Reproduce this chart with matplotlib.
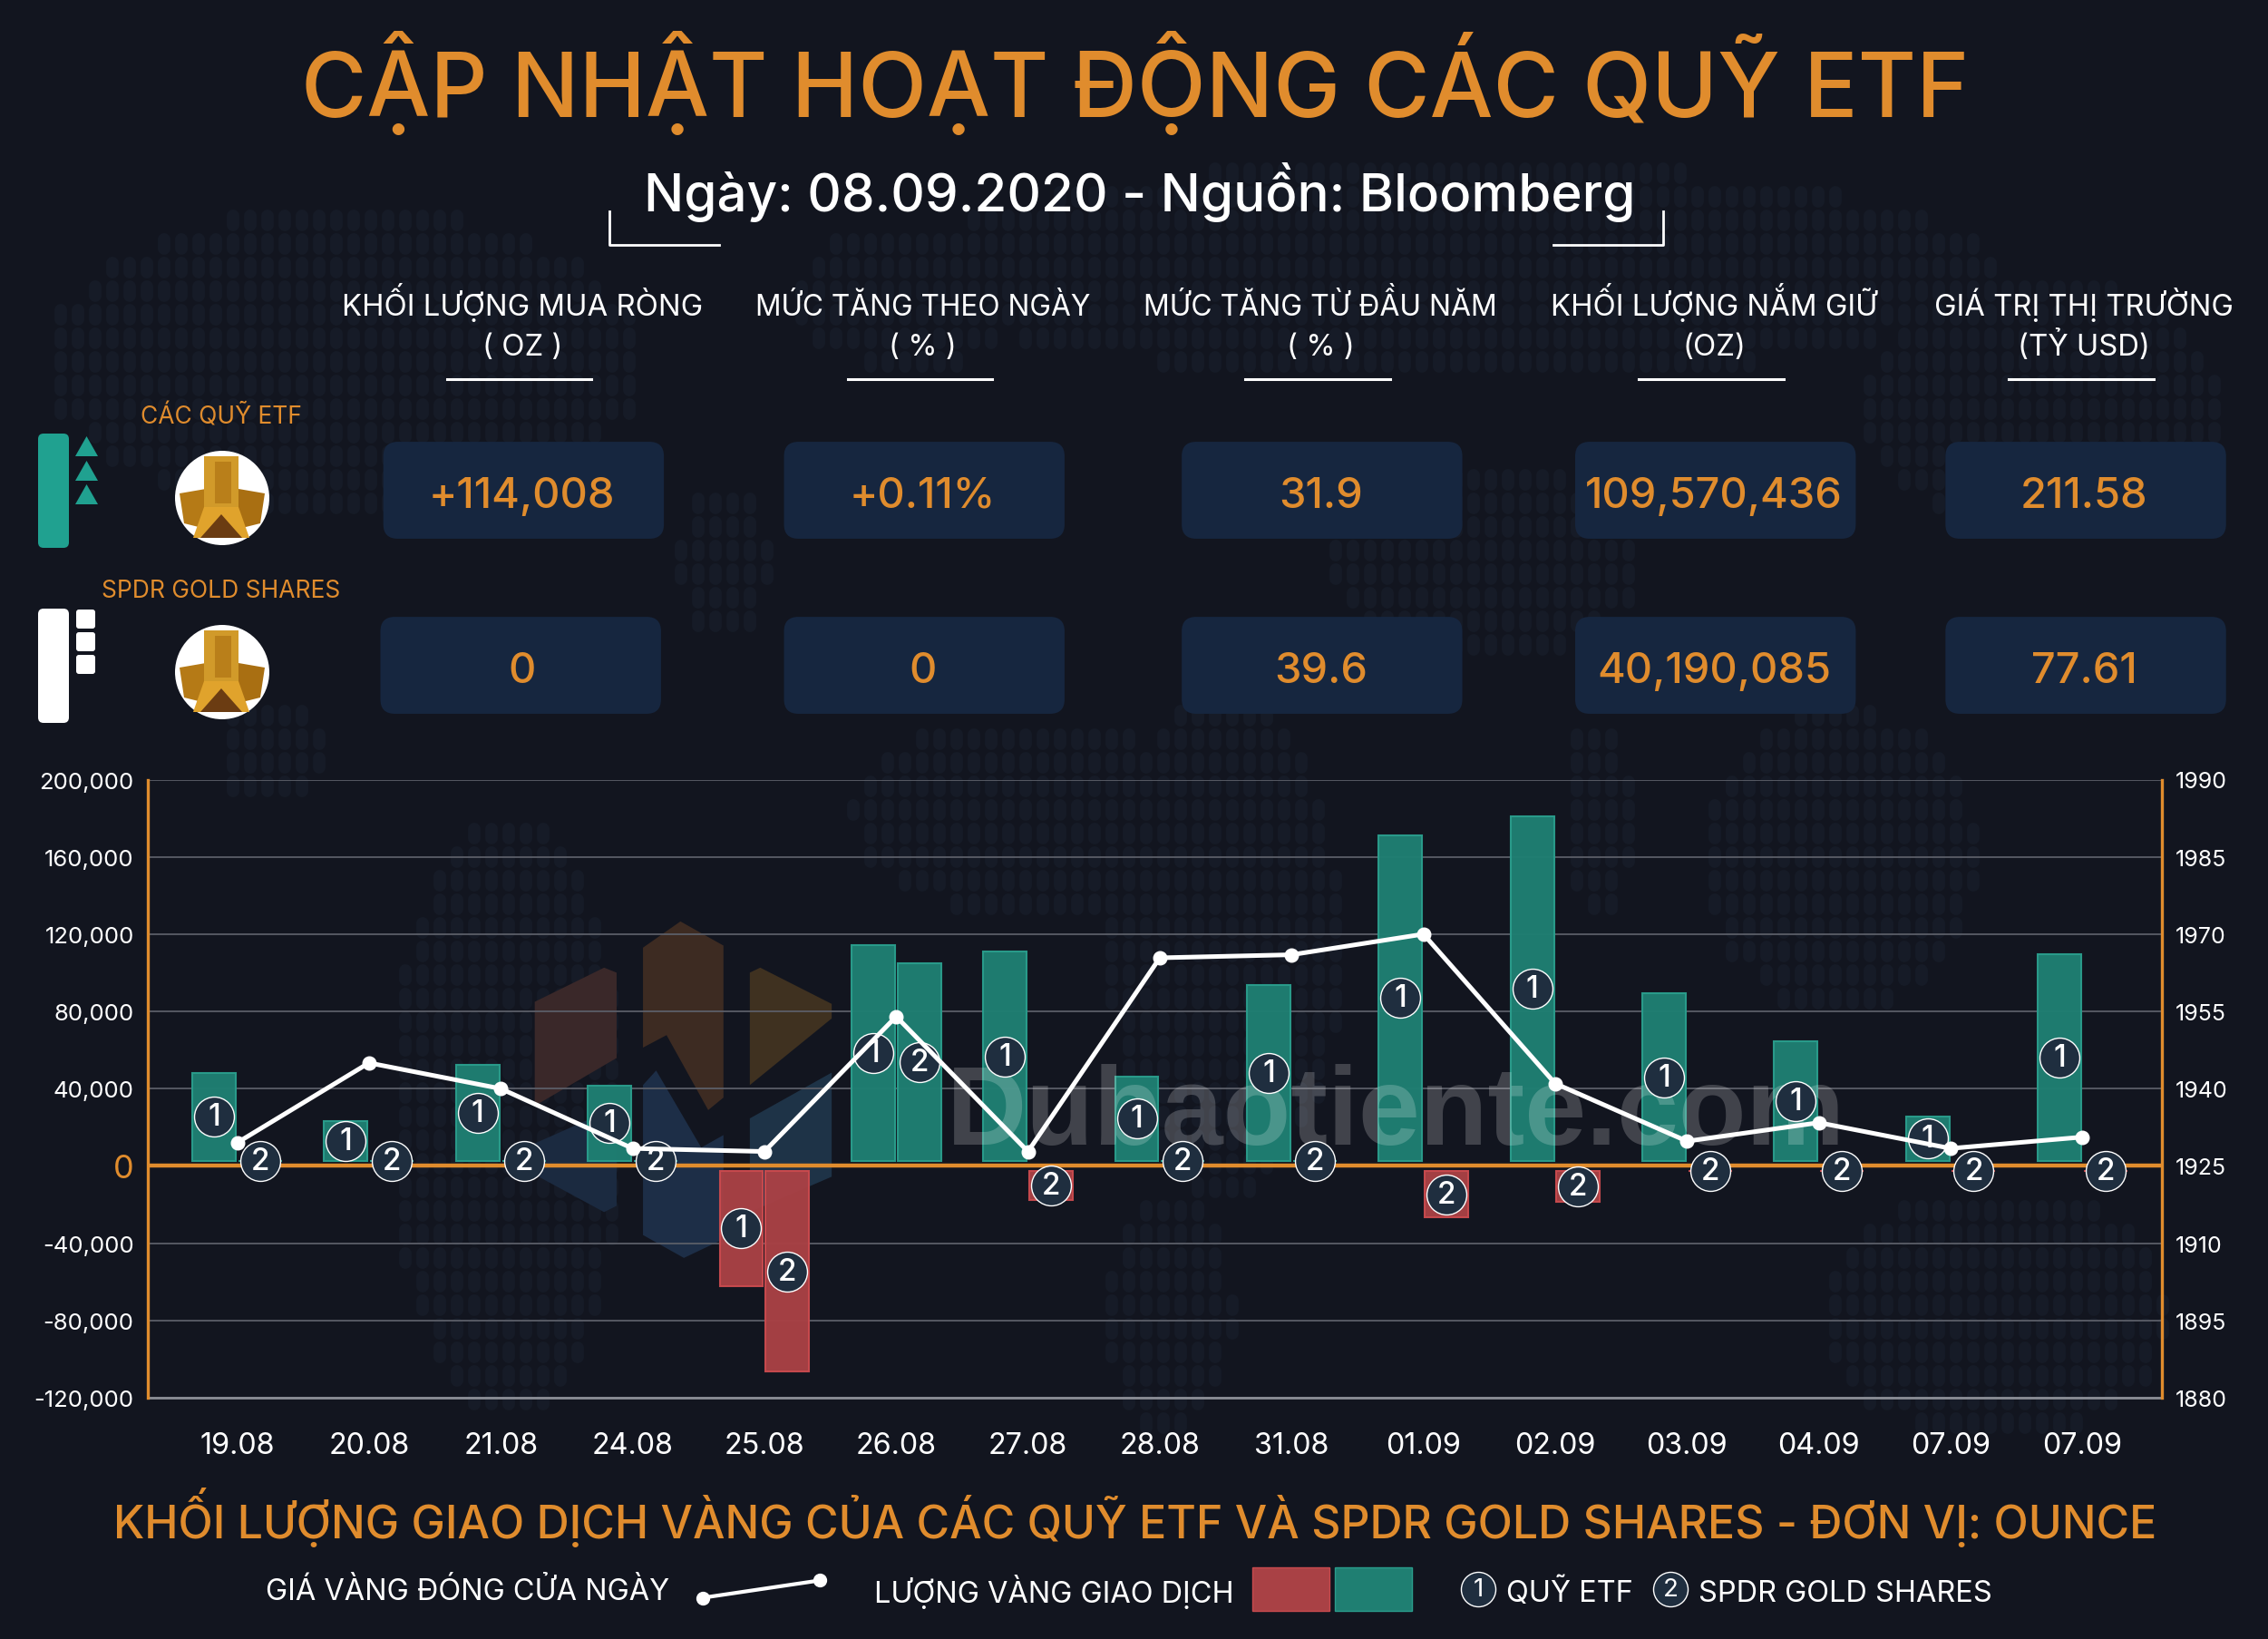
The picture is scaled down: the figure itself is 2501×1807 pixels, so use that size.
import matplotlib
matplotlib.use("Agg")
import matplotlib.pyplot as plt
import numpy as np
from matplotlib.collections import LineCollection
from matplotlib.patches import FancyBboxPatch, Polygon, Circle

plt.rcParams['font.family'] = ['Inter', 'Noto Sans', 'DejaVu Sans']

dates = ["19.08", "20.08", "21.08", "24.08", "25.08", "26.08", "27.08", "28.08",
         "31.08", "01.09", "02.09", "03.09", "04.09", "07.09", "07.09"]
etfVolume = [48200, 23000, 52400, 41600, -62200, 114300, 110900, 46300,
             93600, 171200, 181000, 89300, 64400, 25700, 109500]
# -0.0 = no change but the source draws it as a red stub under the zero line
spdrVolume = [0, 0, 0, 0, -106500, 104800, -17800, 0,
              0, -26700, -18700, -0.0, -0.0, -0.0, -0.0]
goldClose = [1929.5, 1945, 1940, 1928.4, 1927.8, 1954, 1927.8, 1965.4,
             1966, 1970, 1941, 1929.8, 1933.4, 1928.4, 1930.6]

leftTicks = [-120000, -80000, -40000, 0, 40000, 80000, 120000, 160000, 200000]
rightTicks = [1880, 1895, 1910, 1925, 1940, 1955, 1970, 1985, 2000]
rightLabels = ["1880", "1895", "1910", "1925", "1940", "1955", "1970", "1985", "1990"]

headers = [("KHỐI LƯỢNG MUA RÒNG", "( OZ )"), ("MỨC TĂNG THEO NGÀY", "( % )"),
           ("MỨC TĂNG TỪ ĐẦU NĂM", "( % )"), ("KHỐI LƯỢNG NẮM GIỮ", "(OZ)"),
           ("GIÁ TRỊ THỊ TRƯỜNG", "(TỶ USD)")]
etfRow = ["+114,008", "+0.11%", "31.9", "109,570,436", "211.58"]
spdrRow = ["0", "0", "39.6", "40,190,085", "77.61"]

BG = "#12151f"
ORANGE = "#e08c2d"
TEAL = "#1f7f72"
TEAL_EDGE = "#2a9d8c"
RED = "#a94145"
RED_EDGE = "#c94a4e"
BOX = "#16263f"
BADGE = "#1f2e3f"
W, H = 2501, 1808
GAP = 2500

# rough blobs of the dotted world map behind everything, in image pixels
mapBlobs = [(380, 400, 330, 170), (1180, 300, 40, 60), (560, 1230, 130, 330), (300, 830, 60, 60),
            (1130, 900, 190, 110), (1350, 1040, 130, 280), (1290, 1450, 70, 130), (1760, 900, 40, 110),
            (2030, 950, 150, 170), (2200, 1450, 190, 140), (1600, 300, 600, 120), (2250, 450, 200, 140),
            (1000, 330, 120, 80), (1640, 620, 170, 110), (800, 620, 50, 90)]


def addMap(bg):
    segs = []
    for cx in np.arange(10, W, 19):
        for cy in np.arange(10, H, 26):
            for bx, by, rx, ry in mapBlobs:
                if ((cx - bx) / rx) ** 2 + ((cy - by) / ry) ** 2 < 1:
                    segs.append([(cx, cy - 5), (cx, cy + 5)])
                    break
    lc = LineCollection(segs, colors="#161b27", linewidths=10, capstyle="round", zorder=0)
    bg.add_collection(lc)


def addLogo(bg):
    def z(points):
        return [(100 + a / 1.307, 830 + b / 2.178) for a, b in points]
    shapes = [([(640, 600), (740, 518), (758, 530), (758, 735), (640, 850)], "#3a2829"),
              ([(796, 470), (850, 407), (912, 465), (912, 830), (890, 860), (830, 680), (796, 710)], "#3d2b22"),
              ([(950, 530), (965, 518), (1068, 605), (1068, 640), (950, 800)], "#3f3120"),
              ([(640, 940), (735, 870), (758, 900), (758, 1090), (740, 1105), (640, 1015)], "#1b2a40"),
              ([(796, 800), (815, 765), (880, 950), (912, 920), (912, 1170), (855, 1215), (796, 1160)], "#1d2e47"),
              ([(950, 880), (1068, 770), (1068, 1020), (950, 1105)], "#1e3347")]
    for pts, col in shapes:
        bg.add_patch(Polygon(z(pts), closed=True, facecolor=col, edgecolor="none"))


def addGoldIcon(bg, cx, cy):
    bg.add_patch(Circle((cx, cy), 52, facecolor="white", edgecolor="none"))
    bg.add_patch(Polygon([(cx - 47, cy - 5), (cx - 18, cy - 10), (cx - 18, cy + 34), (cx - 42, cy + 28)], facecolor="#b57a16"))
    bg.add_patch(Polygon([(cx + 47, cy - 5), (cx + 18, cy - 10), (cx + 18, cy + 34), (cx + 42, cy + 28)], facecolor="#a96f12"))
    bg.add_patch(Polygon([(cx - 20, cy - 46), (cx + 18, cy - 46), (cx + 18, cy + 10), (cx - 20, cy + 10)], facecolor="#d19a2a"))
    bg.add_patch(Polygon([(cx - 8, cy - 40), (cx + 10, cy - 40), (cx + 10, cy + 6), (cx - 8, cy + 6)], facecolor="#b97f1a"))
    bg.add_patch(Polygon([(cx - 20, cy + 10), (cx + 18, cy + 10), (cx + 30, cy + 44), (cx - 32, cy + 44)], facecolor="#e0a32c"))
    bg.add_patch(Polygon([(cx - 1, cy + 18), (cx + 22, cy + 44), (cx - 24, cy + 44)], facecolor="#6b3c12"))


def addSideIcons(bg):
    bg.add_patch(FancyBboxPatch((46, 483), 26, 118, boxstyle="round,pad=4,rounding_size=6", facecolor="#20a190", edgecolor="none"))
    for top in [482, 509, 535]:
        bg.add_patch(Polygon([(95.5, top), (108, top + 22), (83, top + 22)], facecolor="#20a190"))
    bg.add_patch(FancyBboxPatch((46, 676), 26, 118, boxstyle="round,pad=4,rounding_size=6", facecolor="white", edgecolor="none"))
    for top in [673, 698, 723]:
        bg.add_patch(FancyBboxPatch((87, top + 3), 15, 15, boxstyle="round,pad=3,rounding_size=3", facecolor="white", edgecolor="none"))


def addHeader(ui):
    ui.text(785, 81, "CẬP NHẬT HOẠT ĐỘNG CÁC QUỸ ETF", color=ORANGE, fontsize=71, fontweight="medium", ha="center", va="baseline")
    ui.text(788, 146, "Ngày: 08.09.2020 - Nguồn: Bloomberg", color="white", fontsize=42, fontweight="medium", ha="center", va="baseline")
    ui.plot([421, 421, 497], [147, 170, 170], color="white", lw=2)
    ui.plot([1150, 1150, 1074], [147, 170, 170], color="white", lw=2)

    colCenters = [361, 638, 913, 1185, 1441]
    row1Left = [265, 542, 817, 1089, 1345]
    row2Left = [263, 542, 817, 1089, 1345]
    headerSizes = [23.7, 22.8, 23.0, 23.7, 23.6]
    for i, (top, sub) in enumerate(headers):
        c = colCenters[i]
        ui.text(c, 218, top, color="white", fontsize=headerSizes[i], ha="center", va="baseline")
        ui.text(c, 246, sub, color="white", fontsize=23.7, ha="center", va="baseline")
        ui.plot([c - 52, c + 48], [263, 263], color="white", lw=2.2)
        ui.add_patch(FancyBboxPatch((row1Left[i] + 8, 314), 178, 51, boxstyle="round,pad=8,rounding_size=10", facecolor=BOX, edgecolor="none"))
        ui.add_patch(FancyBboxPatch((row2Left[i] + 8, 435), 178, 51, boxstyle="round,pad=8,rounding_size=10", facecolor=BOX, edgecolor="none"))
        ui.text(c, 351, etfRow[i], color=ORANGE, fontsize=33.8, fontweight="medium", ha="center", va="baseline")
        ui.text(c, 472, spdrRow[i], color=ORANGE, fontsize=33.8, fontweight="medium", ha="center", va="baseline")

    ui.text(153, 293, "CÁC QUỸ ETF", color=ORANGE, fontsize=19, ha="center", va="baseline")
    ui.text(153, 413, "SPDR GOLD SHARES", color=ORANGE, fontsize=19, ha="center", va="baseline")


def addFooter(ui):
    ui.text(785, 1063, "KHỐI LƯỢNG GIAO DỊCH VÀNG CỦA CÁC QUỸ ETF VÀ SPDR GOLD SHARES - ĐƠN VỊ: OUNCE",
            color=ORANGE, fontsize=36, fontweight="medium", ha="center", va="baseline")
    ui.text(323, 1106, "GIÁ VÀNG ĐÓNG CỬA NGÀY", color="white", fontsize=23.4, ha="center", va="baseline")
    ui.plot([486, 567], [1105, 1093], color="white", lw=3, marker="o", ms=10)
    ui.text(729, 1108, "LƯỢNG VÀNG GIAO DỊCH", color="white", fontsize=23.4, ha="center", va="baseline")
    ui.bar(892.5, 30, 53, 1084, color=RED, edgecolor=RED_EDGE, lw=1)
    ui.bar(949.5, 30, 53, 1084, color=TEAL, edgecolor=TEAL_EDGE, lw=1)
    ui.text(1085, 1107, "QUỸ ETF", color="white", fontsize=23.4, ha="center", va="baseline")
    ui.text(1276, 1107, "SPDR GOLD SHARES", color="white", fontsize=23.4, ha="center", va="baseline")
    for x, label in [(1022, "1"), (1155, "2")]:
        ui.scatter([x], [1099], s=750, facecolor=BADGE, edgecolor="white", linewidth=1, zorder=5)
        ui.text(x, 1099, label, color="white", fontsize=20, ha="center", va="center", zorder=6)


def addBars(ax, x, values, offset):
    for xi, v in zip(x + offset, values):
        below = np.signbit(v)
        base = -GAP if below else GAP
        ax.bar(xi, v - base if v != 0 else 0, bottom=base, width=0.33,
               facecolor=RED if below else TEAL, edgecolor=RED_EDGE if below else TEAL_EDGE,
               linewidth=1.5, alpha=0.97, zorder=2)


def addBadges(ax, x, values, offset, label):
    for xi, v in zip(x + offset, values):
        base = -GAP if np.signbit(v) else GAP
        y = base + (v - base) / 2 if v != 0 else base
        ax.scatter([xi], [y], s=1000, facecolor=BADGE, edgecolor="white", linewidth=1, zorder=5, clip_on=False)
        ax.text(xi, y, label, color="white", fontsize=24, fontweight="medium", ha="center", va="center", zorder=6)


def main():
    fig = plt.figure(figsize=(W / 100, H / 100), dpi=100, facecolor=BG)

    bg = fig.add_axes([0, 0, 1, 1], zorder=0)
    bg.set_xlim(0, W)
    bg.set_ylim(H, 0)
    bg.axis("off")
    addMap(bg)
    addLogo(bg)
    addGoldIcon(bg, 245, 550)
    addGoldIcon(bg, 245, 742)
    addSideIcons(bg)

    ui = fig.add_axes([0, 0, 1, 1], zorder=1)
    ui.set_xlim(0, 1568)
    ui.set_ylim(H / (W / 1568), 0)
    ui.axis("off")
    ui.patch.set_alpha(0)
    addHeader(ui)
    addFooter(ui)

    left, right, top, bottom = 163, 2384, 860.5, 1542
    ax = fig.add_axes([left / W, 1 - bottom / H, (right - left) / W, (bottom - top) / H], zorder=2)
    ax.patch.set_alpha(0)
    x = np.arange(len(dates))
    ax.set_xlim(-0.678, 14.603)
    ax.set_ylim(-120000, 200000)
    ax.set_yticks(leftTicks)
    ax.set_yticklabels([f"{t:,}" for t in leftTicks], color="white", fontsize=18.5)
    ax.set_xticks(x)
    ax.set_xticklabels(dates, color="white", fontsize=23.3)
    ax.tick_params(axis="both", length=0)
    ax.tick_params(axis="x", pad=27)
    ax.tick_params(axis="y", pad=11)
    ax.grid(axis="y", color="#5b5e68", lw=1.3, zorder=1)
    ax.set_axisbelow(True)
    for side in ["top", "bottom"]:
        ax.spines[side].set_visible(False)
    for side in ["left", "right"]:
        ax.spines[side].set_color(ORANGE)
        ax.spines[side].set_linewidth(2.4)
    ax.axhline(0, color=ORANGE, lw=3.2, zorder=3)
    ax.axhline(-120000, color="#8a8d95", lw=2, zorder=1, clip_on=False)
    zeroLabel = ax.get_yticklabels()[leftTicks.index(0)]
    zeroLabel.set_color(ORANGE)
    zeroLabel.set_fontsize(26)

    addBars(ax, x, etfVolume, -0.175)
    addBars(ax, x, spdrVolume, 0.175)
    ax.text(8.79, 11700, "Dubaotiente.com", color="#ffffff", alpha=0.2, fontsize=88,
            fontweight="bold", family="Liberation Sans", ha="center", va="baseline", zorder=4)
    addBadges(ax, x, etfVolume, -0.175, "1")
    addBadges(ax, x, spdrVolume, 0.175, "2")

    ax2 = ax.twinx()
    ax2.set_ylim(1880, 2000)
    ax2.set_yticks(rightTicks)
    ax2.set_yticklabels(rightLabels, color="white", fontsize=18)
    ax2.tick_params(axis="y", length=0, pad=10.5)
    for s in ax2.spines.values():
        s.set_visible(False)
    ax2.plot(x, goldClose, color="white", lw=3.6, marker="o", ms=10.5, zorder=7)

    fig.savefig("out.png", dpi=100, facecolor=BG)


main()
